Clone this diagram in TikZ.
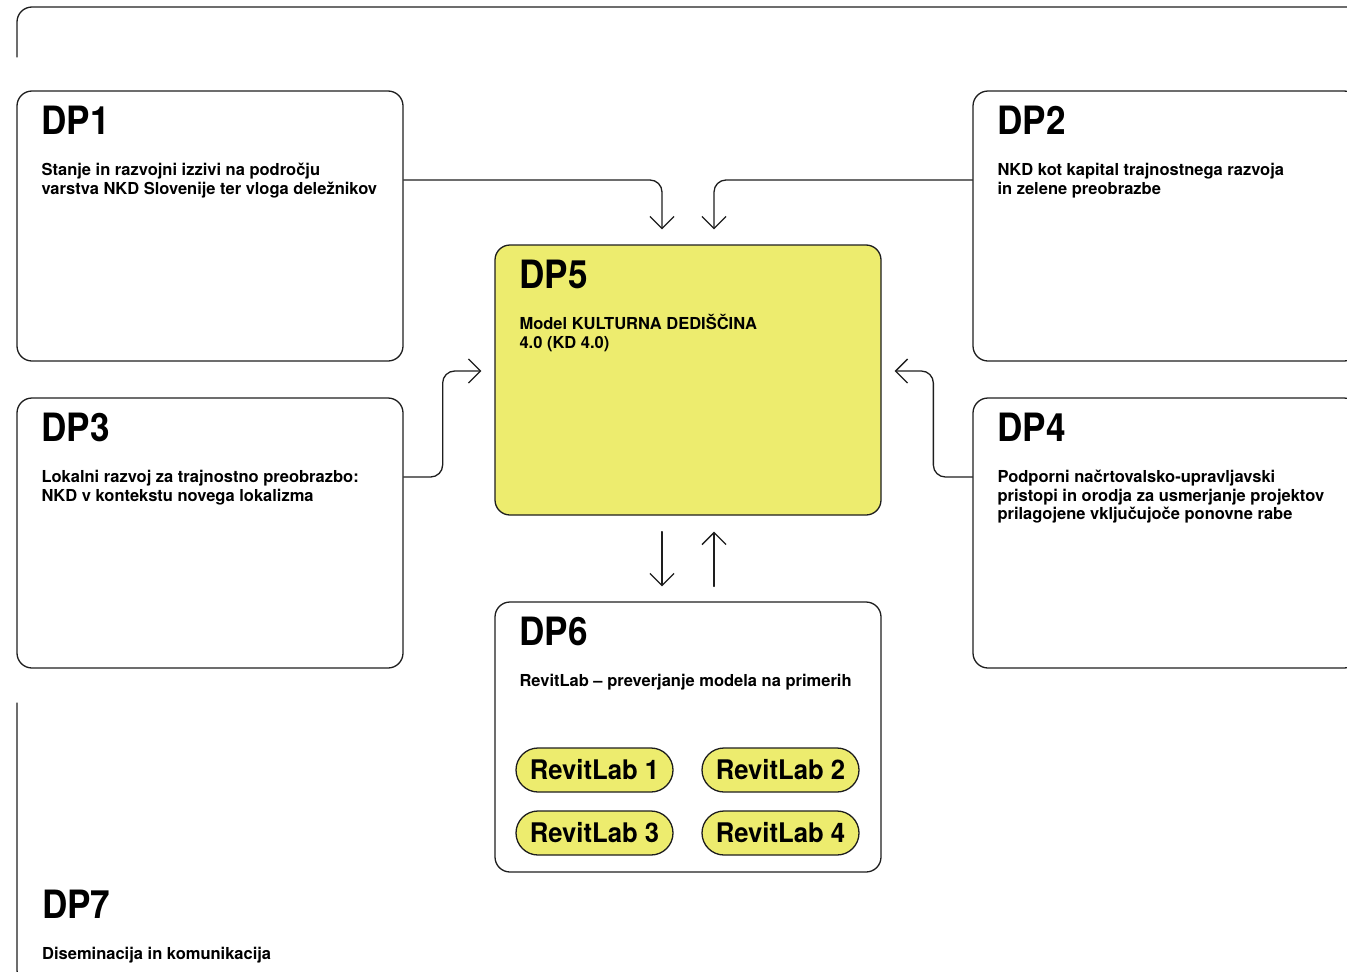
\documentclass[tikz,border=0pt]{standalone}
\usepackage{fontspec}
\setmainfont{TeX Gyre Heros}
\newfontfamily\headfont[FakeStretch=0.9]{TeX Gyre Heros}
\newfontfamily\labfont[FakeStretch=0.95]{TeX Gyre Heros}
\usetikzlibrary{arrows.meta,positioning}
\definecolor{ink}{HTML}{1E1E1E}
\definecolor{lemon}{HTML}{EDEC6E}
\tikzset{
  wpbox/.style={draw=ink, line width=1.3bp, rounded corners=15bp, minimum width=386bp, minimum height=270bp, inner sep=0pt},
  wptitle/.style={anchor=base west, inner sep=0pt, font=\headfont\bfseries\fontsize{39bp}{39bp}\selectfont},
  wptext/.style={anchor=base west, inner sep=0pt, align=left, font=\bfseries\fontsize{16.5bp}{18.7bp}\selectfont},
  lab/.style={draw=ink, line width=1.3bp, fill=lemon, rounded corners=22bp, minimum width=157bp, minimum height=44bp, inner sep=0pt, font=\labfont\bfseries\fontsize{27bp}{27bp}\selectfont},
  link/.style={draw=ink, line width=1.3bp, rounded corners=12bp, -{Straight Barb[length=12bp,width=24bp]}}
}
\begin{document}
\begin{tikzpicture}[x=1bp, y=-1bp, line join=round, line cap=round]
  \useasboundingbox (0,0) rectangle (1347,971);
  \clip (0,0) rectangle (1347,971);
  % DP7: outer frame
  \draw[ink, line width=1.3bp, rounded corners=15bp] (17,57) -- (17,7) -- (1420,7);
  \draw[ink, line width=1.3bp, rounded corners=15bp] (17,703) -- (17,985) -- (1420,985);
  \node[wptitle] (t7) at (42,918) {DP7};
  \node[wptext] (d7) at (42,959) {Diseminacija in komunikacija};
  % boxes
  \node[wpbox] (dp1) at (210,226) {};
  \node[wpbox] (dp2) at (1166,226) {};
  \node[wpbox] (dp3) at (210,533) {};
  \node[wpbox] (dp4) at (1166,533) {};
  \node[wpbox, fill=lemon] (dp5) at (688,380) {};
  \node[wpbox] (dp6) at (688,737) {};
  % titles and texts (base anchor = last line)
  \foreach \b/\t in {dp1/DP1, dp2/DP2, dp3/DP3, dp4/DP4, dp5/DP5, dp6/DP6}
    \node[wptitle] (\b-title) at ([xshift=25bp,yshift=-44bp]\b.north west) {\t};
  \node[wptext] (dp1-text) at ([xshift=25bp,yshift=-103.7bp]dp1.north west)
    {Stanje in razvojni izzivi na področju\\varstva NKD Slovenije ter vloga deležnikov};
  \node[wptext] (dp2-text) at ([xshift=25bp,yshift=-103.7bp]dp2.north west)
    {NKD kot kapital trajnostnega razvoja\\in zelene preobrazbe};
  \node[wptext] (dp3-text) at ([xshift=25bp,yshift=-103.7bp]dp3.north west)
    {Lokalni razvoj za trajnostno preobrazbo:\\NKD v kontekstu novega lokalizma};
  \node[wptext] (dp4-text) at ([xshift=25bp,yshift=-122.4bp]dp4.north west)
    {Podporni načrtovalsko-upravljavski\\pristopi in orodja za usmerjanje projektov\\prilagojene vključujoče ponovne rabe};
  \node[wptext] (dp5-text) at ([xshift=25bp,yshift=-103.7bp]dp5.north west)
    {Model KULTURNA DEDIŠČINA\\4.0 (KD 4.0)};
  \node[wptext] (dp6-text) at ([xshift=25bp,yshift=-85bp]dp6.north west)
    {RevitLab – preverjanje modela na primerih};
  % RevitLab pills
  \node[lab] (lab1) at (594.5,770) {RevitLab 1};
  \node[lab] (lab2) at (780.5,770) {RevitLab 2};
  \node[lab] (lab3) at (594.5,833) {RevitLab 3};
  \node[lab] (lab4) at (780.5,833) {RevitLab 4};
  % connectors
  \draw[link] ([yshift=46bp]dp1.east) -| ([xshift=-26bp,yshift=15bp]dp5.north);
  \draw[link] ([yshift=46bp]dp2.west) -| ([xshift=26bp,yshift=15bp]dp5.north);
  \draw[link] ([yshift=56bp]dp3.east) -- ++(39,0) |- ([xshift=-13bp,yshift=9bp]dp5.west);
  \draw[link] ([yshift=56bp]dp4.west) -- ++(-39,0) |- ([xshift=13bp,yshift=9bp]dp5.east);
  \draw[link] ([xshift=-26bp,yshift=-16bp]dp5.south) -- ([xshift=-26bp,yshift=15bp]dp6.north);
  \draw[link] ([xshift=26bp,yshift=15bp]dp6.north) -- ([xshift=26bp,yshift=-16bp]dp5.south);
\end{tikzpicture}
\end{document}
